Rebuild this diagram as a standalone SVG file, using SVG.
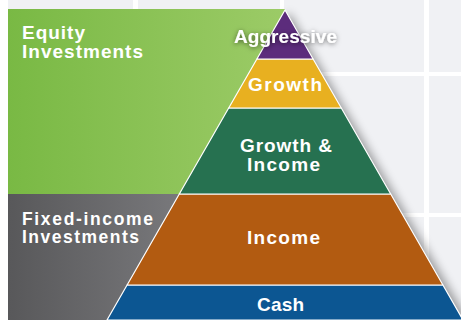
<svg xmlns="http://www.w3.org/2000/svg" width="461" height="320" viewBox="0 0 461 320">
  <defs>
    <linearGradient id="gGreen" x1="0" y1="0" x2="1" y2="0">
      <stop offset="0" stop-color="#79b944"/>
      <stop offset="1" stop-color="#9ccb67"/>
    </linearGradient>
    <linearGradient id="gGray" x1="0" y1="0" x2="1" y2="0">
      <stop offset="0" stop-color="#58585a"/>
      <stop offset="1" stop-color="#7a7a7d"/>
    </linearGradient>
    <filter id="blur" x="-20%" y="-20%" width="140%" height="140%">
      <feGaussianBlur stdDeviation="5"/>
    </filter>
    <filter id="tshadow" x="-20%" y="-50%" width="140%" height="200%">
      <feDropShadow dx="0" dy="1" stdDeviation="2.5" flood-color="#000" flood-opacity="0.55"/>
    </filter>
    <style>
      .lbl { font-family: "Liberation Sans", Arial, sans-serif; font-weight: bold; font-size: 19px; fill: #ffffff; }
      .sm { font-size: 17.5px; }
      .layer { stroke: #ffffff; stroke-width: 1.2; stroke-linejoin: round; }
    </style>
  </defs>

  <!-- background with grid -->
  <rect x="0" y="0" width="461" height="320" fill="#f0f1f4"/>
  <g fill="#ffffff">
    <rect x="0" y="0" width="8" height="320"/>
    <rect x="133" y="0" width="5" height="320"/>
    <rect x="280" y="0" width="4" height="320"/>
    <rect x="424" y="0" width="5" height="320"/>
    <rect x="0" y="72" width="461" height="4"/>
    <rect x="0" y="213" width="461" height="4"/>
  </g>

  <!-- pyramid shadow -->
  <polygon points="289,12 469,322 109,322" fill="#000" opacity="0.35" filter="url(#blur)"/>

  <!-- side panels -->
  <g id="equity">
    <rect x="8" y="9" width="277" height="185" fill="url(#gGreen)"/>
    <text class="lbl" x="22" y="38.5" textLength="63" lengthAdjust="spacing">Equity</text>
    <text class="lbl" x="22" y="57.5" textLength="121" lengthAdjust="spacing">Investments</text>
  </g>
  <g id="fixed-income">
    <rect x="8" y="194" width="180" height="126" fill="url(#gGray)"/>
    <text class="lbl sm" x="22" y="224.5" textLength="131" lengthAdjust="spacing">Fixed-income</text>
    <text class="lbl sm" x="22" y="243" textLength="117" lengthAdjust="spacing">Investments</text>
  </g>

  <!-- pyramid layers -->
  <g id="cash">
    <polygon class="layer" points="127.1,285 442.9,285 463,320 107,320" fill="#0c5692"/>
    <text class="lbl" x="257" y="311" textLength="47" lengthAdjust="spacing">Cash</text>
  </g>
  <g id="income">
    <polygon class="layer" points="179.3,194 390.7,194 442.9,285 127.1,285" fill="#b25b11"/>
    <text class="lbl" x="247" y="243.5" textLength="73" lengthAdjust="spacing">Income</text>
  </g>
  <g id="growth-income">
    <polygon class="layer" points="228.7,108 341.3,108 390.7,194 179.3,194" fill="#267150"/>
    <text class="lbl" x="240" y="151.5" textLength="92" lengthAdjust="spacing">Growth &amp;</text>
    <text class="lbl" x="247" y="170.5" textLength="73" lengthAdjust="spacing">Income</text>
  </g>
  <g id="growth">
    <polygon class="layer" points="256.9,59 313.1,59 341.3,108 228.7,108" fill="#e8b020"/>
    <text class="lbl" x="248" y="91" textLength="74" lengthAdjust="spacing">Growth</text>
  </g>
  <g id="aggressive">
    <polygon class="layer" points="285,10 313.1,59 256.9,59" fill="#5c2c7c"/>
    <text class="lbl" x="234" y="43.3" textLength="103" lengthAdjust="spacing" filter="url(#tshadow)">Aggressive</text>
  </g>
</svg>
